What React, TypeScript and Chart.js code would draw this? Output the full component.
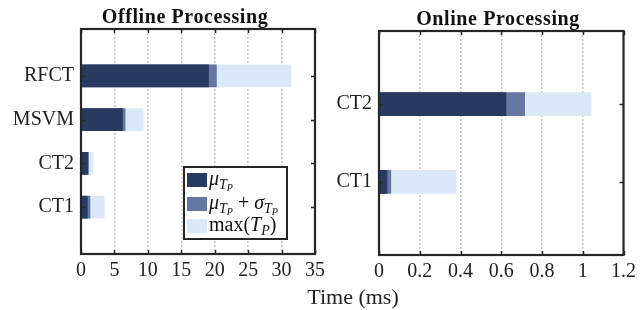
import React, { useEffect, useRef } from "react";
import { Chart, registerables } from "chart.js";

Chart.register(...registerables);

// ---- data ----
const categoriesOffline = ["CT1", "CT2", "MSVM", "RFCT"];
const meanOffline = [0.95, 1.04, 6.2, 19.07];
const meanStdOffline = [1.34, 1.1, 6.6, 20.26];
const maxOffline = [3.47, 1.8, 9.3, 31.4];

const categoriesOnline = ["CT1", "CT2"];
const meanOnline = [0.039, 0.623];
const meanStdOnline = [0.058, 0.715];
const maxOnline = [0.378, 1.041];

const xRangeOffline = [0, 35, 5];
const xRangeOnline = [0, 1.2, 0.2];

const titleOffline = "Offline Processing";
const titleOnline = "Online Processing";
const xAxisTitle = "Time (ms)";

const COLORS = ["#273a5f", "#6479a1", "#dbe8f8"];
const FRAME = "#262626";
const SERIF = '"Liberation Serif", "DejaVu Serif", serif';

type Seg = { t: string; size: number; italic?: boolean; dy?: number };

const legendEntries: Seg[][] = [
  [
    { t: "μ", size: 20, italic: true },
    { t: "T", size: 14, italic: true, dy: 4 },
    { t: "P", size: 10, italic: true, dy: 6 },
  ],
  [
    { t: "μ", size: 20, italic: true },
    { t: "T", size: 14, italic: true, dy: 4 },
    { t: "P", size: 10, italic: true, dy: 6 },
    { t: " + ", size: 20 },
    { t: "σ", size: 20, italic: true },
    { t: "T", size: 14, italic: true, dy: 4 },
    { t: "P", size: 10, italic: true, dy: 6 },
  ],
  [
    { t: "max(", size: 20 },
    { t: "T", size: 20, italic: true },
    { t: "P", size: 14, italic: true, dy: 4 },
    { t: ")", size: 20 },
  ],
];

function drawRich(ctx: CanvasRenderingContext2D, segs: Seg[], x: number, y: number) {
  let cx = x;
  for (const s of segs) {
    ctx.font = `${s.italic ? "italic " : ""}${s.size}px ${SERIF}`;
    ctx.fillText(s.t, cx, y + (s.dy || 0));
    cx += ctx.measureText(s.t).width;
  }
}

function fmt(v: number) {
  return String(+v.toFixed(2));
}

function buildConfig(
  categories: string[],
  mean: number[],
  meanStd: number[],
  max: number[],
  xRange: number[],
  yPad: number,
  barThickness: number,
  padding: any,
  yWidth: number,
  xHeight: number,
  title: string,
  titleX: number,
  titleY: number,
  withLegend: boolean
): any {
  const mk = (vals: number[]) => categories.map((_, i) => ({ x: vals[i], y: i + 1 }));
  const series = [mean, meanStd, max];
  const plugin = {
    id: "frameDeco",
    afterDraw(chart: any) {
      const { ctx, chartArea: a } = chart;
      const xs = chart.scales.x;
      const ys = chart.scales.y;
      ctx.save();
      ctx.strokeStyle = FRAME;
      ctx.lineWidth = 1.5;
      const tl = 4;
      ctx.beginPath();
      xs.ticks.forEach((t: any) => {
        const px = Math.round(xs.getPixelForValue(t.value)) + 0.5;
        ctx.moveTo(px, a.bottom);
        ctx.lineTo(px, a.bottom - tl);
        ctx.moveTo(px, a.top);
        ctx.lineTo(px, a.top + tl);
      });
      ys.ticks.forEach((t: any) => {
        const py = Math.round(ys.getPixelForValue(t.value)) + 0.5;
        ctx.moveTo(a.left, py);
        ctx.lineTo(a.left + tl, py);
        ctx.moveTo(a.right, py);
        ctx.lineTo(a.right - tl, py);
      });
      ctx.stroke();
      ctx.lineWidth = 2.2;
      ctx.strokeRect(a.left, a.top, a.right - a.left, a.bottom - a.top);

      ctx.fillStyle = "#111";
      ctx.font = `bold 20px ${SERIF}`;
      try {
        (ctx as any).letterSpacing = "0.6px";
      } catch (e) {}
      ctx.textAlign = "center";
      ctx.textBaseline = "middle";
      ctx.fillText(title, titleX, titleY);
      try {
        (ctx as any).letterSpacing = "0px";
      } catch (e) {}

      if (withLegend) {
        const bx = 184, by = 167, bw = 103, bh = 72;
        ctx.fillStyle = "#fff";
        ctx.fillRect(bx, by, bw, bh);
        ctx.lineWidth = 2;
        ctx.strokeStyle = FRAME;
        ctx.strokeRect(bx, by, bw, bh);
        ctx.textAlign = "left";
        ctx.textBaseline = "alphabetic";
        const rows = [173, 197, 219];
        legendEntries.forEach((segs, i) => {
          ctx.fillStyle = COLORS[i];
          ctx.fillRect(187, rows[i], 20, 14);
          ctx.fillStyle = "#111";
          drawRich(ctx, segs, 209, rows[i] + 12);
        });
      }
      ctx.restore();
    },
  };

  return {
    type: "bar",
    data: {
      datasets: series.map((vals, i) => ({
        label: ["mean", "mean+std", "max"][i],
        data: mk(vals),
        backgroundColor: COLORS[i],
        borderWidth: 0,
        grouped: false,
        barThickness,
      })),
    },
    options: {
      indexAxis: "y",
      animation: false,
      responsive: false,
      layout: { padding },
      plugins: { legend: { display: false }, tooltip: { enabled: false }, title: { display: false } },
      scales: {
        x: {
          type: "linear",
          min: xRange[0],
          max: xRange[1],
          offset: false,
          ticks: {
            stepSize: xRange[2],
            padding: 5,
            color: "#222",
            font: { family: SERIF, size: 20 },
            callback: (v: number) => fmt(v),
            maxRotation: 0,
          },
          grid: {
            color: "#c4c4c4",
            lineWidth: 1.5,
            drawTicks: false,
            offset: false,
          },
          border: { display: false, dash: [2, 2] },
          afterFit: (s: any) => {
            s.height = xHeight;
          },
        },
        y: {
          type: "linear",
          min: 1 - yPad,
          max: categories.length + yPad,
          offset: false,
          afterBuildTicks: (s: any) => {
            s.ticks = categories.map((_, i) => ({ value: i + 1 }));
          },
          ticks: {
            padding: 7,
            color: "#222",
            font: { family: SERIF, size: 20 },
            callback: (v: number) => categories[Math.round(v) - 1] ?? "",
          },
          grid: { display: false, drawTicks: false, offset: false },
          border: { display: false },
          afterFit: (s: any) => {
            s.width = yWidth;
          },
        },
      },
    },
    plugins: [plugin],
  };
}

function ChartCanvas({ config, width, height, left }: any) {
  const ref = useRef<HTMLCanvasElement>(null);
  useEffect(() => {
    if (!ref.current) return;
    const ch = new Chart(ref.current, config);
    return () => ch.destroy();
  }, []);
  return (
    <canvas
      ref={ref}
      width={width}
      height={height}
      style={{ position: "absolute", left, top: 0, width, height }}
    />
  );
}

export default function App() {
  const leftCfg = buildConfig(
    categoriesOffline, meanOffline, meanStdOffline, maxOffline, xRangeOffline,
    1.07, 22, { top: 29, right: 14, left: 0, bottom: 0 }, 81, 56,
    titleOffline, 185, 18, true
  );
  const rightCfg = buildConfig(
    categoriesOnline, meanOnline, meanStdOnline, maxOnline, xRangeOnline,
    0.94, 23, { top: 31, right: 15, left: 0, bottom: 0 }, 51, 55,
    titleOnline, 170, 20, false
  );
  return (
    <div style={{ position: "absolute", left: 0, top: 0, width: 641, height: 310, background: "#fff", overflow: "hidden" }}>
      <ChartCanvas config={leftCfg} width={330} height={310} left={0} />
      <ChartCanvas config={rightCfg} width={313} height={310} left={328} />
      <div
        style={{
          position: "absolute",
          left: 253,
          width: 200,
          top: 284,
          lineHeight: "26px",
          textAlign: "center",
          fontFamily: SERIF,
          fontSize: 22,
          color: "#222",
        }}
      >
        {xAxisTitle}
      </div>
    </div>
  );
}
